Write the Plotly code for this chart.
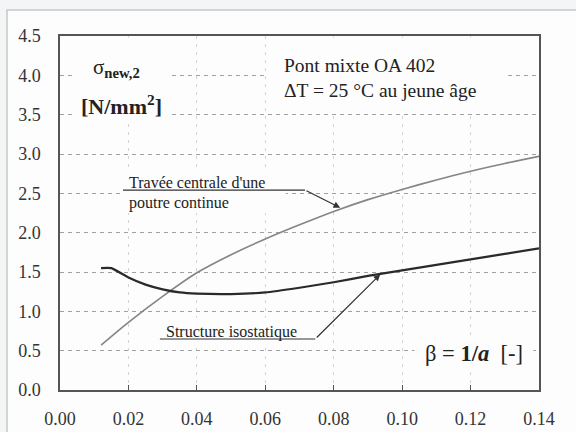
import plotly.graph_objects as go

# ---- data ----
beta_continue = [0.012, 0.02, 0.03, 0.04, 0.05, 0.06, 0.07, 0.08, 0.09, 0.10, 0.11, 0.12, 0.13, 0.14]
sigma_continue = [0.57, 0.86, 1.19, 1.49, 1.72, 1.92, 2.10, 2.27, 2.42, 2.55, 2.67, 2.78, 2.88, 2.97]

beta_iso = [0.012, 0.015, 0.02, 0.025, 0.03, 0.035, 0.04, 0.05, 0.06, 0.07, 0.08, 0.09, 0.10, 0.11, 0.12, 0.13, 0.14]
sigma_iso = [1.55, 1.55, 1.43, 1.34, 1.28, 1.24, 1.225, 1.22, 1.24, 1.30, 1.37, 1.45, 1.52, 1.59, 1.66, 1.73, 1.80]

x_ticks = [0.00, 0.02, 0.04, 0.06, 0.08, 0.10, 0.12, 0.14]
x_tick_text = ["0.00", "0.02", "0.04", "0.06", "0.08", "0.10", "0.12", "0.14"]
y_ticks = [0.0, 0.5, 1.0, 1.5, 2.0, 2.5, 3.0, 3.5, 4.0, 4.5]
y_tick_text = ["0.0", "0.5", "1.0", "1.5", "2.0", "2.5", "3.0", "3.5", "4.0", "4.5"]

SERIF = "Liberation Serif"
BG = "#fdfdfd"

fig = go.Figure()
fig.add_trace(go.Scatter(x=beta_continue, y=sigma_continue, mode="lines",
                         line=dict(color="#858585", width=1.6, shape="spline", smoothing=0.8),
                         hoverinfo="skip", showlegend=False))
fig.add_trace(go.Scatter(x=beta_iso, y=sigma_iso, mode="lines",
                         line=dict(color="#2a2a2a", width=2.2, shape="spline", smoothing=0.5),
                         hoverinfo="skip", showlegend=False))

shapes = [
    # outer frame
    dict(type="rect", xref="paper", yref="paper", x0=-0.1106, x1=1.2, y0=-0.3, y1=1.0734,
         line=dict(color="#c8c8c8", width=1.5), fillcolor=BG, layer="below"),
    # boxes that mask the grid behind text
    dict(type="rect", xref="x", yref="y", x0=0.0045, x1=0.0326, y0=3.4, y1=4.48,
         line=dict(width=0), fillcolor=BG, layer="between"),
    dict(type="rect", xref="x", yref="y", x0=0.0606, x1=0.131, y0=3.55, y1=4.48,
         line=dict(width=0), fillcolor=BG, layer="between"),
    dict(type="rect", xref="x", yref="y", x0=0.018, x1=0.066, y0=2.25, y1=2.78,
         line=dict(width=0), fillcolor=BG, layer="between"),
    dict(type="rect", xref="x", yref="y", x0=0.029, x1=0.0700, y0=0.57, y1=0.92,
         line=dict(width=0), fillcolor=BG, layer="between"),
    dict(type="rect", xref="x", yref="y", x0=0.1036, x1=0.1383, y0=0.26, y1=0.70,
         line=dict(width=0), fillcolor=BG, layer="between"),
    # leader lines
    dict(type="line", xref="x", yref="y", x0=0.0184, x1=0.0716, y0=2.542, y1=2.542,
         line=dict(color="#333333", width=1.2), layer="above"),
    dict(type="line", xref="x", yref="y", x0=0.0292, x1=0.0746, y0=0.648, y1=0.648,
         line=dict(color="#333333", width=1.2), layer="above"),
]

ann = [
    dict(x=0.0166, y=4.09, text="σ<sub><b>new,2</b></sub>", font=dict(size=21)),
    dict(x=0.0181, y=3.62, text="<b>[N/mm<sup>2</sup>]</b>", font=dict(size=22)),
    dict(x=0.0649, y=4.13, text="Pont mixte OA 402", xanchor="left", font=dict(size=19.5)),
    dict(x=0.0649, y=3.81, text="ΔT = 25 °C au jeune âge", xanchor="left", font=dict(size=19.5)),
    dict(x=0.0195, y=2.64, text="Travée centrale d'une", xanchor="left", font=dict(size=16)),
    dict(x=0.0195, y=2.377, text="poutre continue", xanchor="left", font=dict(size=16)),
    dict(x=0.0304, y=0.741, text="Structure isostatique", xanchor="left", font=dict(size=16)),
    dict(x=0.1061, y=0.47, text="β = <b>1/<i>a</i></b>\u00a0\u00a0[-]", xanchor="left", font=dict(size=22.5)),
]
annotations = []
for a in ann:
    d = dict(xref="x", yref="y", showarrow=False)
    d.update(a)
    d["font"] = dict(family=SERIF, color="#222222", **a["font"])
    annotations.append(d)

# arrowheads
annotations.append(dict(x=0.0819, y=2.317, ax=0.0716, ay=2.542, xref="x", yref="y",
                        axref="x", ayref="y", showarrow=True, text="", arrowhead=2,
                        arrowsize=1.1, arrowwidth=1.2, arrowcolor="#333333", standoff=0))
annotations.append(dict(x=0.0936, y=1.47, ax=0.0746, ay=0.648, xref="x", yref="y",
                        axref="x", ayref="y", showarrow=True, text="", arrowhead=2,
                        arrowsize=1.1, arrowwidth=1.2, arrowcolor="#333333", standoff=0))

fig.update_layout(
    width=576, height=432,
    margin=dict(l=60, r=37, t=36, b=42, autoexpand=False),
    paper_bgcolor="#f4f5f7",
    plot_bgcolor=BG,
    font=dict(family=SERIF, color="#333333"),
    shapes=shapes,
    annotations=annotations,
    xaxis=dict(range=[0, 0.14], tickvals=x_ticks, ticktext=x_tick_text,
               showgrid=True, gridcolor="#d2d2d2", griddash="3px,5px", gridwidth=1,
               showline=True, linecolor="#555555", linewidth=1.5, mirror=True,
               ticks="inside", ticklen=5, tickcolor="#555555", tickwidth=1.2,
               ticklabelstandoff=12, tickfont=dict(family=SERIF, size=18, color="#333333"),
               zeroline=False, fixedrange=True, automargin=False),
    yaxis=dict(range=[0, 4.5], tickvals=y_ticks, ticktext=y_tick_text,
               showgrid=True, gridcolor="#a0a0a0", griddash="4px,4px", gridwidth=1,
               showline=True, linecolor="#555555", linewidth=1.5, mirror=True,
               ticks="", ticklabelstandoff=14,
               tickfont=dict(family=SERIF, size=18, color="#333333"),
               zeroline=False, fixedrange=True, automargin=False),
)

fig.write_html("out.html", config={"displayModeBar": False},
               post_script="document.body.style.margin='0';")
